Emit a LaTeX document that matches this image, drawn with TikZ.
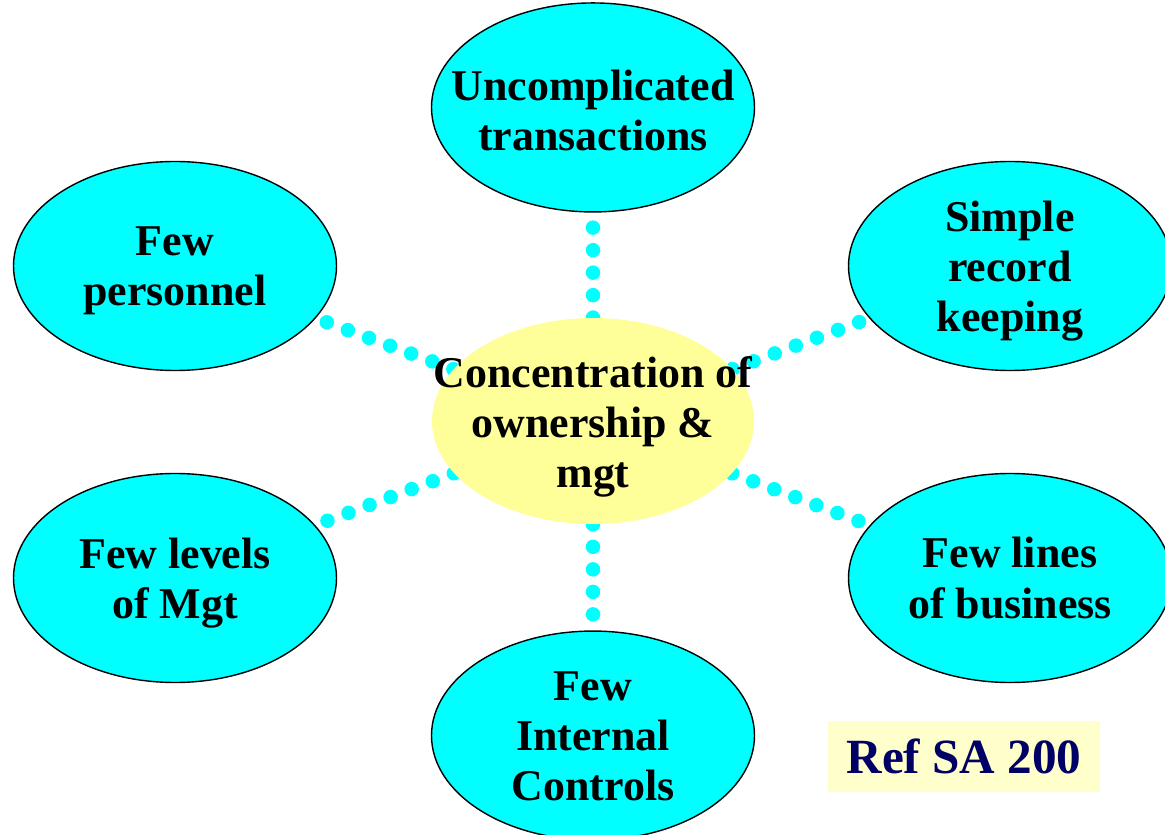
\documentclass[tikz,border=0pt]{standalone}
\usepackage{fontspec}
\setmainfont{Liberation Serif}
\usepackage{tikz}
\usetikzlibrary{positioning,shapes.geometric,backgrounds}
\definecolor{bubblecolor}{RGB}{0, 255, 255}
\definecolor{hubcolor}{RGB}{255, 255, 153}
\definecolor{refcolor}{RGB}{255, 255, 204}
\definecolor{refink}{RGB}{0, 0, 102}
\tikzset{
    bubble/.style={ellipse, draw=black, line width=0.8pt, fill=bubblecolor, minimum width=6.46cm, minimum height=4.18cm, inner sep=0pt},
    hub/.style={ellipse, fill=hubcolor, minimum width=6.44cm, minimum height=4.12cm, inner sep=0pt},
    bubble text/.style={align=center, inner sep=0pt, font=\fontsize{25}{28.5}\selectfont\bfseries},
    dot link/.style={bubblecolor, line width=0.29cm, line cap=round, dash pattern=on 0pt off 0.45cm},
    ref box/.style={rectangle, fill=refcolor, minimum width=5.44cm, minimum height=1.42cm, text=refink, font=\fontsize{28}{32}\selectfont\bfseries}
}
\begin{document}
\begin{tikzpicture}
\useasboundingbox (0,0) rectangle (23.3,16.68);

\node[hub, label={[bubble text, yshift=-0.12cm]center:Concentration of\\ownership \&\\mgt}] (hub) at (11.86,8.26) {};
\node[bubble, label={[bubble text, yshift=-0.06cm]center:Uncomplicated\\transactions}, above=2.1cm of hub] (transactions) {};
\node[bubble, label={[bubble text, yshift=-0.02cm]center:Few\\Internal\\Controls}, below=2.12cm of hub] (controls) {};
\node[bubble, label={[bubble text, yshift=-0.1cm]center:Few\\personnel}] (personnel) at (3.5,11.36) {};
\node[bubble, label={[bubble text, yshift=-0.1cm]center:Simple\\record\\keeping}] (records) at (20.2,11.36) {};
\node[bubble, label={[bubble text, yshift=-0.1cm]center:Few levels\\of Mgt}] (levels) at (3.5,5.12) {};
\node[bubble, label={[bubble text]center:Few lines\\of business}] (lines) at (20.2,5.12) {};
\node[ref box] (ref) at (19.28,1.55) {Ref SA 200};

\begin{pgfonlayer}{background}
\draw[dot link] (hub) -- (transactions);
\draw[dot link] (hub) -- (controls);
\draw[dot link] (hub) -- (personnel);
\draw[dot link] (hub) -- (records);
\draw[dot link] (hub) -- (levels);
\draw[dot link] (hub) -- (lines);
\end{pgfonlayer}
\end{tikzpicture}
\end{document}
